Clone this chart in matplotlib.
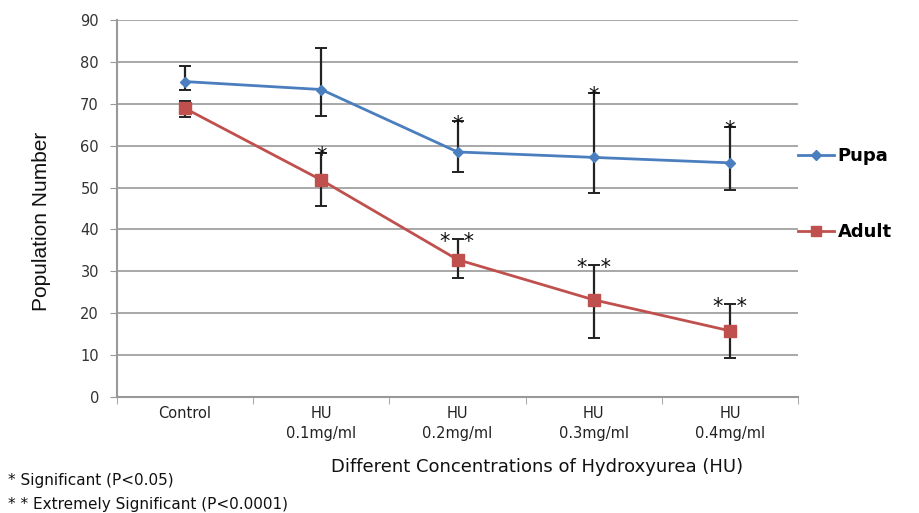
import matplotlib
matplotlib.use("Agg")
import matplotlib.pyplot as plt
from matplotlib.lines import Line2D
import numpy as np

categories = ["Control", "HU\n0.1mg/ml", "HU\n0.2mg/ml", "HU\n0.3mg/ml", "HU\n0.4mg/ml"]
pupa = [75.3, 73.4, 58.5, 57.2, 55.9]
pupa_err_up = [3.6, 9.8, 7.3, 15.4, 8.6]
pupa_err_dn = [2.0, 6.3, 4.7, 8.6, 6.5]
adult = [68.9, 51.8, 32.8, 23.2, 15.8]
adult_err_up = [1.8, 6.5, 5.0, 8.3, 6.5]
adult_err_dn = [2.0, 6.1, 4.5, 9.0, 6.6]
pupa_sig = ["", "", "*", "*", "*"]
adult_sig = ["", "*", "*  *", "*  *", "*  *"]
yticks = [0, 10, 20, 30, 40, 50, 60, 70, 80, 90]

plt.rcParams['font.family'] = ['DejaVu Sans']

fig = plt.figure(figsize=(9.19, 5.13), dpi=100)
ax = fig.add_axes([117/919, 1-397/513, (798-117)/919, (397-20)/513])

x = np.arange(len(categories))
blue = "#4A7EBF"
red = "#C0504D"

ax.errorbar(x, pupa, yerr=[pupa_err_dn, pupa_err_up], fmt='none', ecolor='#222222',
            elinewidth=1.6, capsize=4, capthick=1.4, zorder=3)
ax.errorbar(x, adult, yerr=[adult_err_dn, adult_err_up], fmt='none', ecolor='#222222',
            elinewidth=1.6, capsize=4, capthick=1.4, zorder=3)
ax.plot(x, pupa, color=blue, lw=2, marker='D', ms=5.5, zorder=4, label="Pupa")
ax.plot(x, adult, color=red, lw=2, marker='s', ms=8, zorder=4, label="Adult")

for xi, v, e, s in zip(x, pupa, pupa_err_up, pupa_sig):
    if s:
        ax.text(xi, v + e - 0.8, s, ha='center', va='center', fontsize=15,
                color='#111111', zorder=5)
for xi, v, e, s in zip(x, adult, adult_err_up, adult_sig):
    if s:
        ax.text(xi, v + e - 0.8, s, ha='center', va='center', fontsize=15,
                color='#111111', zorder=5)

ax.set_xlim(-0.5, 4.5)
ax.set_ylim(0, 90)
ax.set_yticks(yticks)
ax.set_yticklabels([str(t) for t in yticks], fontsize=10.5, color='#333333')
ax.set_xticks(x)
ax.set_xticklabels(categories, fontsize=10.5, color='#222222', linespacing=1.45)
ax.set_xticks(np.arange(-0.5, 5.0, 1.0), minor=True)
ax.tick_params(axis='x', which='major', length=0, pad=6.5)
ax.tick_params(axis='x', which='minor', length=5, color='#999999', direction='out')
ax.tick_params(axis='y', length=5, color='#999999', direction='out', pad=8)

ax.grid(axis='y', color='#9a9a9a', lw=1.2)
ax.set_axisbelow(True)
for sp in ['top', 'right']:
    ax.spines[sp].set_visible(False)
for sp in ['left', 'bottom']:
    ax.spines[sp].set_color('#999999')
    ax.spines[sp].set_linewidth(1.5)

fig.text(42/919, 1-221/513, "Population Number", rotation=90, ha='center', va='center',
         fontsize=15, family=['Liberation Sans Narrow', 'Liberation Sans'], color='#111111')
fig.text(537/919, 1-467/513, "Different Concentrations of Hydroxyurea (HU)", ha='center', va='center',
         fontsize=13, color='#111111')
fig.text(8/919, 1-480/513, "* Significant (P<0.05)", ha='left', va='center', fontsize=11, color='#111111')
fig.text(8/919, 1-505/513, "* * Extremely Significant (P<0.0001)", ha='left', va='center', fontsize=11,
         color='#111111')

handles = [Line2D([0], [0], color=blue, lw=2, marker='D', ms=5),
           Line2D([0], [0], color=red, lw=2, marker='s', ms=7)]
leg = ax.legend(handles, ["Pupa", "Adult"], loc='upper left', bbox_to_anchor=(0.989, 0.682),
                frameon=False, handlelength=2.0, handletextpad=0.2, labelspacing=3.2,
                prop={'size': 13, 'weight': 'bold'}, borderaxespad=0)

fig.savefig("out.png", dpi=100)
